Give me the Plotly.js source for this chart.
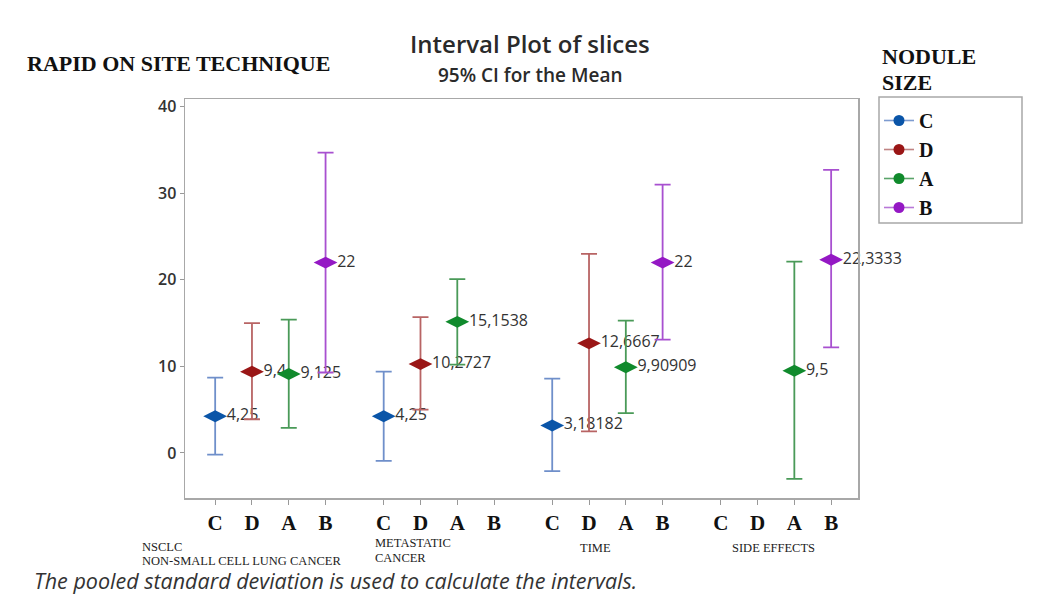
<!DOCTYPE html>
<html>
<head>
<meta charset="utf-8">
<script src="https://cdn.plot.ly/plotly-3.0.1.min.js"></script>
<style>html,body{margin:0;padding:0;background:#fff;}#chart{width:1037px;height:595px;}</style>
</head>
<body>
<div id="chart"></div>
<script>
// ---- data ----
const groups = ['NSCLC', 'METASTATIC CANCER', 'TIME', 'SIDE EFFECTS'];
const sizes = ['C', 'D', 'A', 'B'];
const meanC = [4.25, 4.25, 3.18182, null];
const lowC  = [-0.2, -0.9, -2.1, null];
const highC = [8.7, 9.4, 8.6, null];
const meanD = [9.4, 10.2727, 12.6667, null];
const lowD  = [3.9, 5.0, 2.5, null];
const highD = [15.0, 15.7, 23.0, null];
const meanA = [9.125, 15.1538, 9.90909, 9.5];
const lowA  = [2.9, 10.2, 4.6, -3.0];
const highA = [15.4, 20.1, 15.3, 22.1];
const meanB = [22, null, 22, 22.3333];
const lowB  = [9.3, null, 13.1, 12.2];
const highB = [34.7, null, 31.0, 32.7];

// ---- styling ----
const markerColors = {C: '#0A55A8', D: '#9A1616', A: '#108A2C', B: '#9418C4'};
const barColors    = {C: '#6F8FCA', D: '#B86464', A: '#4A9A58', B: '#A850D0'};
const legendLineColors = {C: '#7D9BD0', D: '#C08484', A: '#5AA46A', B: '#B878D8'};
const GAP = 4.58;

const series = {
  C: [meanC, lowC, highC],
  D: [meanD, lowD, highD],
  A: [meanA, lowA, highA],
  B: [meanB, lowB, highB]
};

const traces = [];
sizes.forEach((s, i) => {
  const [m, lo, hi] = series[s];
  const xs = groups.map((g, gi) => gi * GAP + i);
  traces.push({
    type: 'scatter',
    mode: 'markers+text',
    x: xs, y: m,
    text: m.map(v => v == null ? '' : String(v).replace('.', ',')),
    textposition: 'middle right',
    textfont: {family: 'Open Sans', size: 16, color: '#333'},
    marker: {symbol: 'diamond-wide', size: 17, color: markerColors[s]},
    error_y: {
      type: 'data', symmetric: false,
      array: m.map((v, k) => v == null ? null : hi[k] - v),
      arrayminus: m.map((v, k) => v == null ? null : v - lo[k]),
      color: barColors[s], thickness: 1.8, width: 8
    },
    cliponaxis: false,
    showlegend: false,
    hoverinfo: 'x+y'
  });
});
sizes.forEach(s => {
  traces.push({
    type: 'scatter', mode: 'lines+markers',
    x: [null], y: [null], name: s,
    line: {color: legendLineColors[s], width: 1.6},
    marker: {symbol: 'circle', size: 11, color: markerColors[s]},
    showlegend: true
  });
});

const tickvals = [];
const ticktext = [];
groups.forEach((g, gi) => sizes.forEach((s, i) => { tickvals.push(gi * GAP + i); ticktext.push(s); }));

// pixel helpers for annotations
const L = 185, R = 858, T = 99, B = 498;
const px = x => (x - L) / (R - L);
const py = y => (B - y) / (B - T);

const serifBold = {family: 'Liberation Serif', size: 22, color: '#111', weight: 'bold'};
const smallSerif = {family: 'Liberation Serif', size: 12.5, color: '#222'};

const ann = (text, x, y, font, xanchor) => ({
  text: text, x: px(x), y: py(y), xref: 'paper', yref: 'paper', showarrow: false,
  xanchor: xanchor || 'left', yanchor: 'middle', font: font
});

const annotations = [
  ann('Interval Plot of slices', 530, 44, {family: 'Open Sans', size: 24, color: '#2a2a2a', weight: 600}, 'center'),
  ann('95% CI for the Mean', 530, 75, {family: 'Open Sans', size: 19, color: '#2a2a2a', weight: 600}, 'center'),
  ann('RAPID ON SITE TECHNIQUE', 25, 64, serifBold),
  ann('NODULE', 880, 57, serifBold),
  ann('SIZE', 880, 82, serifBold),
  ann('NSCLC', 140, 547, smallSerif),
  ann('NON-SMALL CELL LUNG CANCER', 140, 561, smallSerif),
  ann('METASTATIC', 373, 543, smallSerif),
  ann('CANCER', 373, 558, smallSerif),
  ann('TIME', 578, 548, smallSerif),
  ann('SIDE EFFECTS', 730, 548, smallSerif),
  ann('<i>The pooled standard deviation is used to calculate the intervals.</i>', 32, 580,
      {family: 'Open Sans', size: 21.5, color: '#333'})
];

const layout = {
  width: 1037, height: 595,
  margin: {l: L, r: 1037 - R, t: T, b: 595 - B},
  paper_bgcolor: '#fff', plot_bgcolor: '#fff',
  xaxis: {
    range: [-0.82, 17.47], tickmode: 'array', tickvals: tickvals, ticktext: ticktext,
    tickfont: {family: 'Liberation Serif', size: 21, color: '#111', weight: 'bold'},
    ticks: 'outside', ticklen: 5, tickcolor: '#999', tickwidth: 1,
    showline: true, mirror: true, linecolor: '#a8a8a8', linewidth: 1.5,
    showgrid: false, zeroline: false, fixedrange: true
  },
  yaxis: {
    range: [-5.2, 40.9], tickvals: [0, 10, 20, 30, 40],
    tickfont: {family: 'Open Sans', size: 16, color: '#333', weight: 600},
    ticks: 'outside', ticklen: 4, tickcolor: '#999', tickwidth: 1,
    showline: true, mirror: true, linecolor: '#a8a8a8', linewidth: 1.5,
    showgrid: false, zeroline: false, fixedrange: true
  },
  legend: {
    x: px(879), y: py(101), xanchor: 'left', yanchor: 'top',
    borderwidth: 0, bgcolor: 'rgba(0,0,0,0)',
    font: {family: 'Liberation Serif', size: 20, color: '#111', weight: 'bold'},
    tracegroupgap: 0
  },
  shapes: [
    {type: 'rect', xref: 'paper', yref: 'paper', x0: px(879), x1: px(1022), y0: py(97), y1: py(223),
     line: {color: '#a8a8a8', width: 1.5}, fillcolor: 'rgba(0,0,0,0)'}
  ],
  annotations: annotations,
  showlegend: true
};

Plotly.newPlot('chart', traces, layout, {displayModeBar: false, staticPlot: true});
</script>
</body>
</html>
